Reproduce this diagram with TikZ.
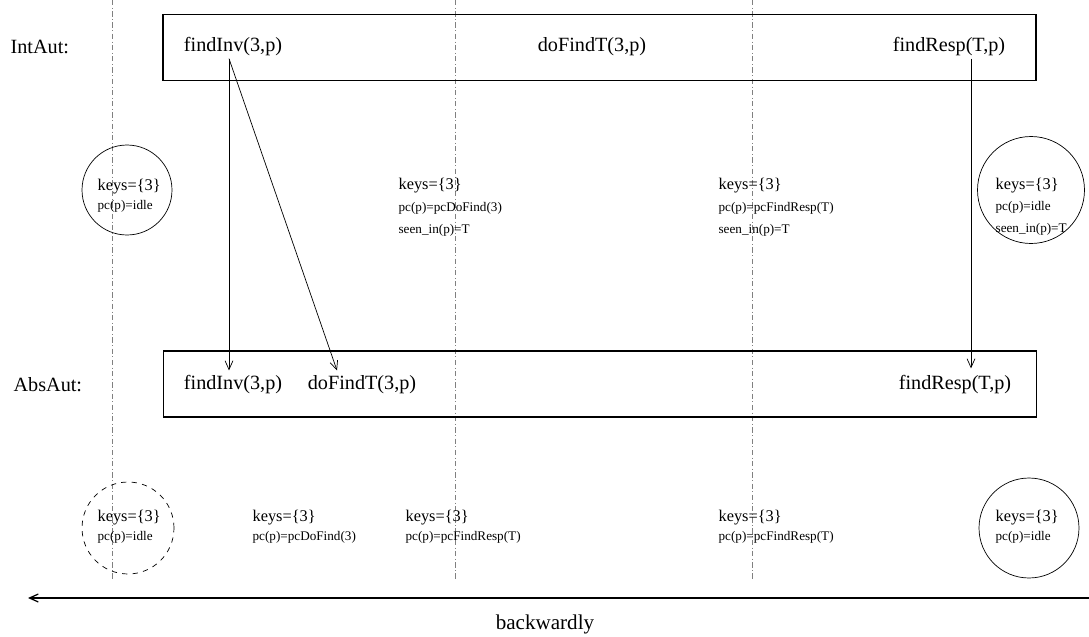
\documentclass[tikz,border=0pt]{standalone}
\usepackage{fontspec}
\setmainfont{Liberation Serif}
\usepackage{tikz}
\usetikzlibrary{positioning, arrows.meta, calc}
\tikzset{>={Straight Barb[length=5pt,width=4.5pt]}}
\tikzset{
	autlabel/.style={anchor=west, inner sep=0pt, font=\fontsize{11.5}{14}\selectfont},
	action/.style={inner sep=1pt, font=\fontsize{11.5}{14}\selectfont},
	keyline/.style={anchor=west, inner sep=0pt, font=\fontsize{9.3}{11}\selectfont},
	varline/.style={anchor=west, inner sep=0pt, font=\fontsize{7.5}{9}\selectfont},
	autbox/.style={draw, minimum width=17.46cm, minimum height=1.32cm},
	statecirc/.style={draw, circle, thin, inner sep=0pt},
	timeline/.style={gray, very thin, dash pattern=on 3pt off 1.5pt on 0.4pt off 1.5pt}
}

\begin{document}
\begin{tikzpicture}[x=0.02cm, y=-0.02cm, line width=0.7pt]
		\useasboundingbox (0,0) rectangle (1089,636);

		% time lines
		\coordinate (t1a) at (112,0);   \coordinate (t1b) at (112,580);
		\coordinate (t2a) at (455,0);   \coordinate (t2b) at (455,580);
		\coordinate (t3a) at (752,0);   \coordinate (t3b) at (752,580);
		\draw[timeline] (t1a) -- (t1b);
		\draw[timeline] (t2a) -- (t2b);
		\draw[timeline] (t3a) -- (t3b);

		% automata
		\node[autlabel] (int) at (10,47) {IntAut:};
		\node[autlabel] (abs) at (13,385) {AbsAut:};
		\node[autbox] (intbox) at (599.5,47.5) {};
		\node[autbox] (absbox) at (600,384) {};

		\node[action] (fi1) at (233,47) {findInv(3,p)};
		\node[action] (df1) at (592,47) {doFindT(3,p)};
		\node[action] (fr1) at (949,47) {findResp(T,p)};
		\node[action] (fi2) at (233,385) {findInv(3,p)};
		\node[action] (df2) at (362,385) {doFindT(3,p)};
		\node[action] (fr2) at (955,385) {findResp(T,p)};

		\coordinate (ix) at (229,0);
		\coordinate (dx) at (337,0);
		\coordinate (rx) at (971,0);
		\draw[->, thin] (fi1.south -| ix) -- ([yshift=0.06cm]fi2.north -| ix);
		\draw[->, thin] (fi1.south -| ix) -- ([yshift=0.06cm]df2.north -| dx);
		\draw[->, thin] (fr1.south -| rx) -- ([yshift=0.1cm]fr2.north -| rx);

		% states of IntAut
		\node[statecirc, minimum size=1.8cm] (c1) at (127,190) {};
		\node[statecirc, minimum size=2.14cm] (c2) at (1031,190) {};
		\node[keyline] (k1) at (97,187) {keys=\{3\}};
		\node[varline] (p1) at (97,206) {pc(p)=idle};
		\node[keyline] (k2) at (398,186) {keys=\{3\}};
		\node[varline] (p2) at (398,208) {pc(p)=pcDoFind(3)};
		\node[varline] (s2) at (398,230) {seen\_in(p)=T};
		\node[keyline] (k3) at (718,186) {keys=\{3\}};
		\node[varline] (p3) at (718,208) {pc(p)=pcFindResp(T)};
		\node[varline] (s3) at (718,230) {seen\_in(p)=T};
		\node[keyline] (k4) at (995,186) {keys=\{3\}};
		\node[varline] (p4) at (995,207) {pc(p)=idle};
		\node[varline] (s4) at (995,229) {seen\_in(p)=T};

		% states of AbsAut
		\node[statecirc, dashed, minimum size=1.84cm] (c3) at (128,528) {};
		\node[statecirc, minimum size=2cm] (c4) at (1029,528) {};
		\node[keyline] (k5) at (97,518) {keys=\{3\}};
		\node[varline] (p5) at (97,537) {pc(p)=idle};
		\node[keyline] (k6) at (252,518) {keys=\{3\}};
		\node[varline] (p6) at (252,537) {pc(p)=pcDoFind(3)};
		\node[keyline] (k7) at (405,518) {keys=\{3\}};
		\node[varline] (p7) at (405,537) {pc(p)=pcFindResp(T)};
		\node[keyline] (k8) at (718,518) {keys=\{3\}};
		\node[varline] (p8) at (718,537) {pc(p)=pcFindResp(T)};
		\node[keyline] (k9) at (995,518) {keys=\{3\}};
		\node[varline] (p9) at (995,537) {pc(p)=idle};

		% direction
		\coordinate (bwR) at (1089,598);
		\coordinate (bwL) at (28,598);
		\draw[->] (bwR) -- (bwL);
		\node[font=\fontsize{12}{14}\selectfont] (bw) at (545,624) {backwardly};
\end{tikzpicture}
\end{document}
